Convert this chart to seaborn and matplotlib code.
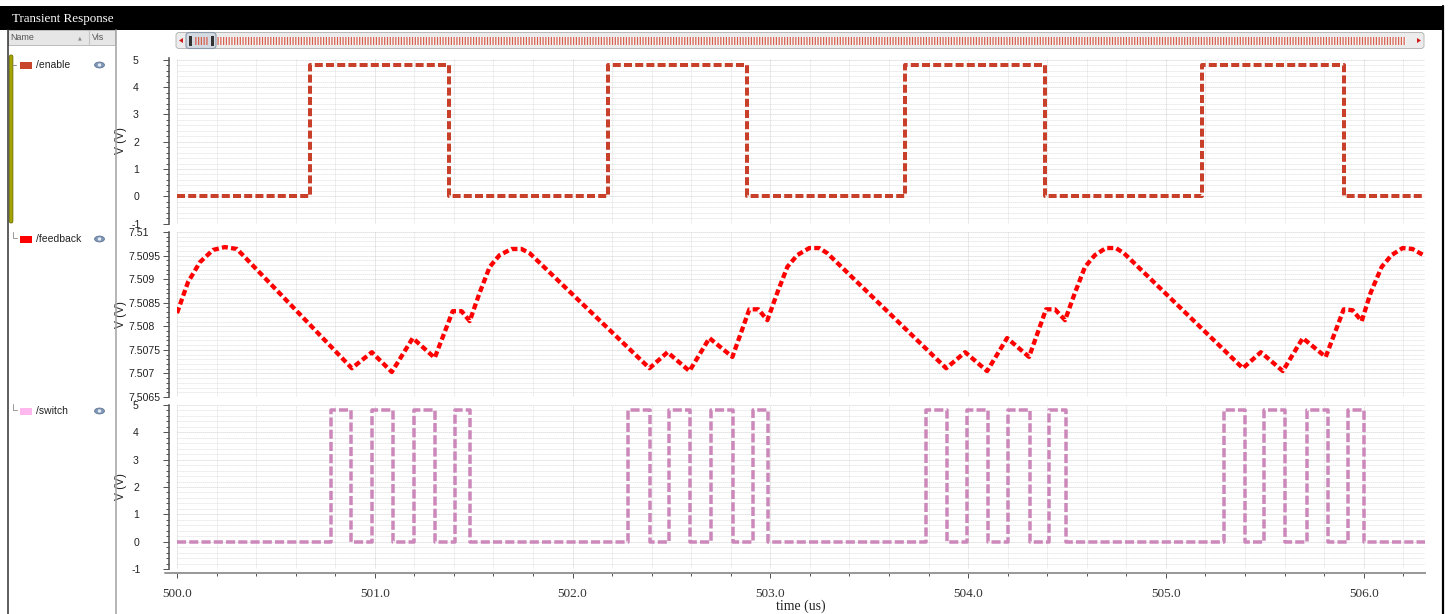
import matplotlib
matplotlib.use('Agg')
import matplotlib.pyplot as plt
import seaborn as sns
from matplotlib.patches import Rectangle, FancyBboxPatch, Ellipse, Polygon
from matplotlib.ticker import FixedLocator, MultipleLocator, FixedFormatter, NullFormatter

# ---------------- data ----------------
x_ticks = [500.0, 501.0, 502.0, 503.0, 504.0, 505.0, 506.0]
x_tick_labels = ['500.0', '501.0', '502.0', '503.0', '504.0', '505.0', '506.0']
x_range = [500.0, 506.31]
x_label = 'time (us)'

volt_ticks = [-1, 0, 1, 2, 3, 4, 5]
volt_tick_labels = ['-1', '0', '1', '2', '3', '4', '5']
fb_ticks = [7.5065, 7.507, 7.5075, 7.508, 7.5085, 7.509, 7.5095, 7.51]
fb_tick_labels = ['7.5065', '7.507', '7.5075', '7.508', '7.5085', '7.509', '7.5095', '7.51']
y_label = 'V (V)'

signal_names = ['/enable', '/feedback', '/switch']

enable_time = [500.0, 500.673, 501.376, 502.180, 502.883, 503.682, 504.390, 505.185, 505.898, 506.31]
enable_volt = [0.0, 4.8, 0.0, 4.8, 0.0, 4.8, 0.0, 4.8, 0.0, 0.0]

feedback_time = [
    500.000, 500.056, 500.116, 500.182, 500.242, 500.303,
    500.884, 500.985, 501.086, 501.192, 501.303, 501.394, 501.439, 501.480,
    501.530, 501.581, 501.631, 501.692, 501.742, 501.783,
    502.389, 502.480, 502.591, 502.692, 502.808, 502.894, 502.939, 502.985,
    503.035, 503.086, 503.136, 503.197, 503.247, 503.288,
    503.889, 503.985, 504.096, 504.197, 504.308, 504.394, 504.439, 504.490,
    504.540, 504.591, 504.641, 504.697, 504.747, 504.788,
    505.389, 505.480, 505.591, 505.692, 505.808, 505.899, 505.944, 505.990,
    506.035, 506.091, 506.141, 506.197, 506.247, 506.310,
]
feedback_volt = [
    7.50828, 7.50894, 7.50936, 7.50962, 7.50968, 7.50964,
    7.50711, 7.50745, 7.50703, 7.50775, 7.50733, 7.50832, 7.50832, 7.50811,
    7.50871, 7.50926, 7.50951, 7.50964, 7.50964, 7.50955,
    7.50711, 7.50745, 7.50705, 7.50775, 7.50735, 7.50836, 7.50836, 7.50813,
    7.50871, 7.50926, 7.50951, 7.50966, 7.50966, 7.50955,
    7.50711, 7.50745, 7.50705, 7.50775, 7.50735, 7.50836, 7.50836, 7.50813,
    7.50871, 7.50926, 7.50951, 7.50966, 7.50966, 7.50955,
    7.50711, 7.50745, 7.50705, 7.50775, 7.50735, 7.50836, 7.50834, 7.50811,
    7.50871, 7.50926, 7.50951, 7.50966, 7.50964, 7.50949,
]

switch_time = [
    500.0,
    500.779, 500.880, 500.986, 501.093, 501.199, 501.305, 501.406, 501.482,
    502.281, 502.393, 502.489, 502.595, 502.701, 502.812, 502.913, 502.989,
    503.789, 503.895, 503.996, 504.102, 504.203, 504.315, 504.411, 504.497,
    505.296, 505.402, 505.498, 505.604, 505.711, 505.822, 505.923, 506.004,
    506.31,
]
switch_volt = [
    0.0,
    4.8, 0.0, 4.8, 0.0, 4.8, 0.0, 4.8, 0.0,
    4.8, 0.0, 4.8, 0.0, 4.8, 0.0, 4.8, 0.0,
    4.8, 0.0, 4.8, 0.0, 4.8, 0.0, 4.8, 0.0,
    4.8, 0.0, 4.8, 0.0, 4.8, 0.0, 4.8, 0.0,
    0.0,
]

# ---------------- style ----------------
enable_color = '#C8402A'
feedback_color = '#FF0000'
switch_color = '#CC88BB'
swatch_colors = ['#C8442A', '#FF0000', '#FFB8EE']
scroll_red = '#D8604E'

W, H = 1448, 614
PT = 0.72  # points per pixel at dpi 100

sns.set_theme(style='white')
plt.rcParams['font.family'] = ['Liberation Sans', 'DejaVu Sans']
plt.rcParams['axes.unicode_minus'] = False
plt.rcParams['hatch.linewidth'] = 0.9
plt.rcParams['hatch.color'] = scroll_red

fig = plt.figure(figsize=(W / 100, H / 100), dpi=100)
fig.patch.set_facecolor('white')


def px_axes(x0, y0, x1, y1, **kw):
    return fig.add_axes([x0 / W, 1 - y1 / H, (x1 - x0) / W, (y1 - y0) / H], **kw)


ax1 = px_axes(177, 57.5, 1425, 223.5)
ax2 = px_axes(177, 232, 1425, 397)
ax3 = px_axes(177, 405, 1425, 569)

sns.lineplot(x=enable_time, y=enable_volt, ax=ax1, drawstyle='steps-post', color=enable_color,
             linewidth=4 * PT, linestyle=(0, (2.0, 0.8)), estimator=None, sort=False, legend=False)
sns.lineplot(x=feedback_time, y=feedback_volt, ax=ax2, color=feedback_color,
             linewidth=4.3 * PT, linestyle=(0, (1.4, 0.75)), estimator=None, sort=False, legend=False)
sns.lineplot(x=switch_time, y=switch_volt, ax=ax3, drawstyle='steps-post', color=switch_color,
             linewidth=3.5 * PT, linestyle=(0, (2.6, 0.9)), estimator=None, sort=False, legend=False)

for ax in (ax1, ax2, ax3):
    ax.set_facecolor('white')
    ax.set_xlim(x_range)
    ax.xaxis.set_major_locator(FixedLocator(x_ticks))
    ax.xaxis.set_minor_locator(MultipleLocator(0.2))
    ax.set_xlabel('')
    ax.set_ylabel('')
    for s in ('top', 'right'):
        ax.spines[s].set_visible(False)
    ax.spines['left'].set_position(('outward', 8 * PT))
    ax.spines['left'].set_color('#555555')
    ax.spines['left'].set_linewidth(1.6 * PT)
    ax.grid(which='major', color='#BBBBBB', linestyle=(0, (1, 1.5)), linewidth=0.8 * PT)
    ax.grid(which='minor', color='#CFCFCF', linestyle=(0, (1, 1.5)), linewidth=0.8 * PT)
    ax.tick_params(axis='y', which='major', direction='out', length=6 * PT, width=1 * PT,
                   color='#555555', labelsize=7.6, labelcolor='#222222', left=True)
    ax.tick_params(axis='y', which='minor', direction='out', length=3.5 * PT, width=1 * PT,
                   color='#555555', left=True)

for ax in (ax1, ax3):
    ax.set_ylim(-1, 5.09 if ax is ax1 else 5.0)
    ax.yaxis.set_major_locator(FixedLocator(volt_ticks))
    ax.yaxis.set_major_formatter(FixedFormatter(volt_tick_labels))
    ax.yaxis.set_minor_locator(MultipleLocator(0.2))
    ax.tick_params(axis='y', which='major', pad=27 * PT)
    for lab in ax.get_yticklabels():
        lab.set_horizontalalignment('center')

ax2.set_ylim(7.5065, 7.51)
ax2.yaxis.set_major_locator(FixedLocator(fb_ticks))
ax2.yaxis.set_major_formatter(FixedFormatter(fb_tick_labels))
ax2.yaxis.set_minor_locator(MultipleLocator(0.0001))
ax2.tick_params(axis='y', which='major', pad=35 * PT)
for lab in ax2.get_yticklabels():
    lab.set_horizontalalignment('left')

for ax in (ax1, ax2):
    ax.spines['bottom'].set_visible(False)
    ax.tick_params(axis='x', which='both', bottom=False, labelbottom=False)

ax3.spines['bottom'].set_position(('outward', 4 * PT))
ax3.spines['bottom'].set_color('#999999')
ax3.spines['bottom'].set_linewidth(2 * PT)
ax3.xaxis.set_major_formatter(FixedFormatter(x_tick_labels))
ax3.xaxis.set_minor_formatter(NullFormatter())
ax3.tick_params(axis='x', which='major', direction='out', length=5 * PT, width=1 * PT,
                color='#555555', pad=10 * PT, labelsize=9.5, labelcolor='#333333', bottom=True)
ax3.tick_params(axis='x', which='minor', direction='out', length=3 * PT, width=1 * PT,
                color='#555555', bottom=True)
for lab in ax3.get_xticklabels():
    lab.set_fontfamily('Liberation Serif')

# ---------------- overlay (window chrome, legend) ----------------
ov = fig.add_axes([0, 0, 1, 1], zorder=5)
ov.set_xlim(0, W)
ov.set_ylim(H, 0)
ov.axis('off')
ov.patch.set_visible(False)

# title bar
ov.add_patch(Rectangle((0, 6), 1444, 24, facecolor='black', edgecolor='none'))
ov.text(12, 19, 'Transient Response', color='white', fontsize=9.4, family='Liberation Serif',
        va='center', ha='left')
# right border
ov.plot([1442.5, 1442.5], [6, 614], color='black', lw=2.2 * PT)

# left panel header
ov.add_patch(Rectangle((8, 30), 107, 15, facecolor='#E6E6E6', edgecolor='#BBBBBB', lw=0.7))
ov.plot([89, 89], [31, 44], color='#C4C4C4', lw=0.8)
ov.text(10, 37, 'Name', fontsize=6.4, color='#555555', va='center', ha='left')
ov.text(80, 38, '\u25B2', fontsize=3.5, color='#8A8A8A', va='center', ha='center', family='DejaVu Sans')
ov.text(92, 37, 'Vis', fontsize=6.4, color='#555555', va='center', ha='left')

# left border and separator
ov.plot([8, 8], [30, 614], color='#3A3A3A', lw=1.6 * PT)
ov.plot([115.5, 115.5], [30, 614], color='#A6A6A6', lw=1.6 * PT)
ov.add_patch(FancyBboxPatch((9.3, 55), 3.6, 168, boxstyle='round,pad=0,rounding_size=1.8',
                            facecolor='#A4A400', edgecolor='#6E6E00', lw=0.6))

# legend rows
row_y = [65, 239, 411]
for name, col, y in zip(signal_names, swatch_colors, row_y):
    ov.add_patch(Rectangle((20, y - 3.5), 12, 7, facecolor=col, edgecolor='none'))
    ov.text(36, y, name, fontsize=7.5, color='#222222', va='center', ha='left')
    ov.add_patch(Ellipse((99.5, y), 10, 6, facecolor='#7F97B5', edgecolor='#5A7090', lw=0.5))
    ov.add_patch(Ellipse((99.5, y), 3.4, 3.4, facecolor='#E8EEF6', edgecolor='none'))
ov.plot([12, 16], [65, 65], color='#8A8A8A', lw=0.7)
for y in row_y[1:]:
    ov.plot([13, 13, 17], [y - 7, y - 1, y - 1], color='#9A9A9A', lw=0.7)

# scrollbar
ov.add_patch(FancyBboxPatch((176, 32.5), 1248, 16, boxstyle='round,pad=0,rounding_size=3',
                            facecolor='#ECECEC', edgecolor='#B8B8B8', lw=0.7))
ov.add_patch(Rectangle((196, 36.5), 1210, 8, facecolor='#F4F4F4', edgecolor=scroll_red, lw=0,
                       hatch='|' * 6))
ov.add_patch(FancyBboxPatch((186, 32.5), 30, 16, boxstyle='round,pad=0,rounding_size=3',
                            facecolor='#D4DAE2', edgecolor='#8C9AAA', lw=0.8))
ov.add_patch(Rectangle((195, 37), 14, 8, facecolor='none', edgecolor=scroll_red, lw=0,
                       hatch='|' * 6))
ov.add_patch(Rectangle((189, 35.5), 2.5, 10, facecolor='#333333', edgecolor='none'))
ov.add_patch(Rectangle((211, 35.5), 2.5, 10, facecolor='#333333', edgecolor='none'))
ov.add_patch(Polygon([[179, 40.5], [183, 38], [183, 43]], closed=True, facecolor='#D21A1A',
                     edgecolor='none'))
ov.add_patch(Polygon([[1421, 40.5], [1417, 38], [1417, 43]], closed=True, facecolor='#D21A1A',
                     edgecolor='none'))

# axis extension and labels
ov.plot([165, 177], [573, 573], color='#999999', lw=2 * PT)
for yc in (140, 314, 487):
    fig.text(121 / W, 1 - yc / H, y_label, rotation=90, fontsize=8.5, color='#222222',
             ha='center', va='center')
fig.text(801 / W, 1 - 606 / H, x_label, fontsize=10, color='#222222', family='Liberation Serif',
         ha='center', va='center')

fig.savefig('out.png', dpi=100, facecolor='white')
